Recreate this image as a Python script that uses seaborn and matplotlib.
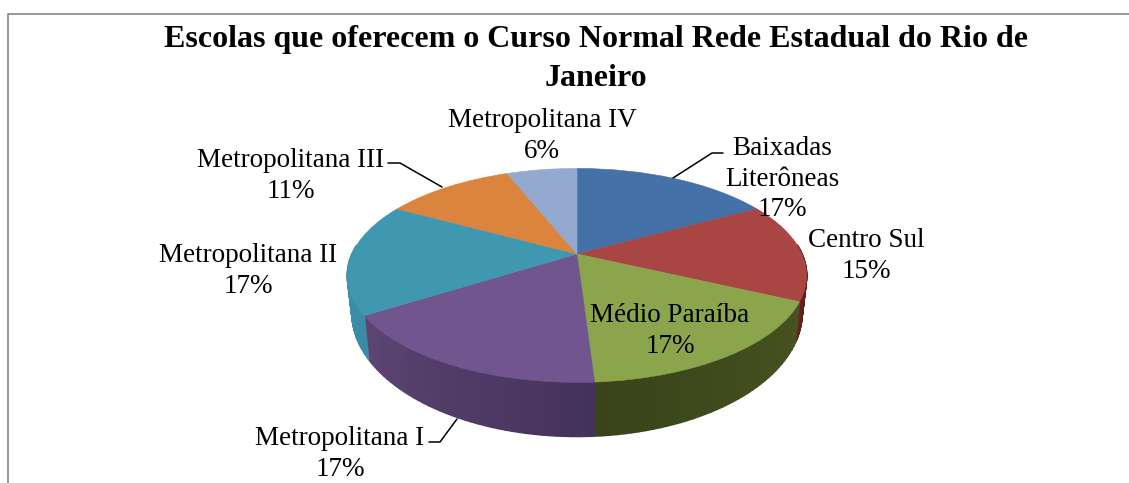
import numpy as np
import matplotlib
matplotlib.use('Agg')
import matplotlib.pyplot as plt
import seaborn as sns
from matplotlib.collections import PolyCollection
from matplotlib.colors import to_rgb
from matplotlib.transforms import Transform

categories = ['Baixadas\nLiterôneas', 'Centro Sul', 'Médio Paraíba', 'Metropolitana I',
              'Metropolitana II', 'Metropolitana III', 'Metropolitana IV']
values = [17, 15, 17, 17, 17, 11, 6]
top_colors = ['#4571a9', '#a94543', '#8aa54c', '#70558f', '#3f97b0', '#db843d', '#93a9cf']
wall_start = ['#2f4d75', '#4a1210', '#46531f', '#45325a', '#3a8ba4', '#a05a22', '#6a7ca0']
wall_end = ['#2f4d75', '#6a1f1d', '#39441a', '#5c4573', '#3f93ad', '#a05a22', '#6a7ca0']
label_pos = [(782, 179), (866, 256), (670, 331), (340, 454), (248, 271), (291, 176), (542, 136)]
title = 'Escolas que oferecem o Curso Normal Rede Estadual do Rio de\nJaneiro'

sns.set_theme(style='white')
plt.rcParams['font.family'] = ['Liberation Serif', 'DejaVu Serif']

# tilted disc, the far side is smaller than the near side
CX, CY, RX, RY, K = 577, 254, 225, 102.7, 0.2


def project(x, y):
    s = 1 / (1 + K * y)
    return CX + RX * x * s, CY - RY * y * s


class Tilt(Transform):
    input_dims = 2
    output_dims = 2

    def transform_non_affine(self, xy):
        xy = np.asarray(xy)
        px, py = project(xy[:, 0], xy[:, 1])
        return np.column_stack([px, py])


fig = plt.figure(figsize=(11.29, 4.83), dpi=100)
ax = fig.add_axes([0, 0, 1, 1])

wedges, _ = ax.pie(values, colors=sns.color_palette(top_colors), startangle=90, counterclock=False,
                   radius=1, center=(0, 0))
ax.set_aspect('auto')
ax.set_xlim(0, 1129)
ax.set_ylim(483, 0)

tilt = Tilt() + ax.transData
for w in wedges:
    w.set_transform(tilt)
    w.set_edgecolor(w.get_facecolor())
    w.set_linewidth(0.4)
    w.set_zorder(3)

# side wall of each slice
bounds = np.concatenate([[0], np.cumsum(values)]) * 3.6
for i in range(len(values)):
    t0, t1 = max(bounds[i], 85), min(bounds[i + 1], 275)
    if t1 <= t0:
        continue
    th = np.radians(np.linspace(t0, t1, 40))
    x, y = np.sin(th), np.cos(th)
    px, py = project(x, y)
    s = 1 / (1 + K * y)
    bx = CX + (px - CX) * 0.98
    by = py + 34.6 * s ** 2
    c0, c1 = np.array(to_rgb(wall_start[i])), np.array(to_rgb(wall_end[i]))
    quads, cols = [], []
    for j in range(len(th) - 1):
        quads.append([(px[j], py[j]), (px[j + 1], py[j + 1]), (bx[j + 1], by[j + 1]), (bx[j], by[j])])
        cols.append(c0 + (c1 - c0) * j / (len(th) - 2))
    ax.add_collection(PolyCollection(quads, facecolors=cols, edgecolors=cols, linewidths=1.2, zorder=2))

# labels
for name, val, (lx, ly) in zip(categories, values, label_pos):
    ax.text(lx, ly, f'{name}\n{val}%', ha='center', va='center', fontsize=19.5, color='black',
            linespacing=1.3, zorder=5)

# leader lines
ax.plot([388, 400, 442], [163, 163, 187], color='black', lw=1.1, zorder=4)
ax.plot([723, 712, 673], [153, 153, 178], color='black', lw=1.1, zorder=4)
ax.plot([429, 440, 457], [442, 442, 419], color='black', lw=1.1, zorder=4)

ax.text(595.5, 59, title, ha='center', va='center', fontsize=23, fontweight='bold', color='black', linespacing=1.47)

# chart border, only top and left are in the crop
ax.plot([7.5, 7.5, 1129], [483, 14, 14], color='#868686', lw=1.2, clip_on=False)

fig.savefig('out.png', dpi=100)
